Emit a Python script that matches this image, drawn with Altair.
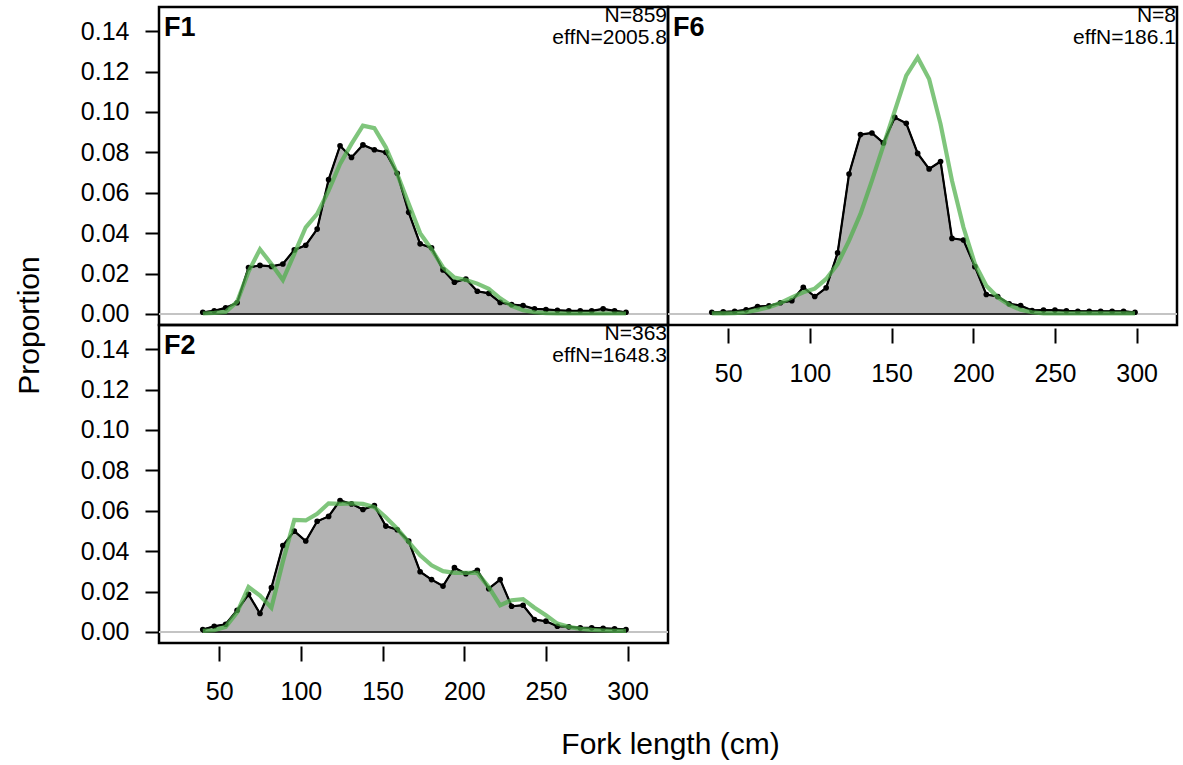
import altair as alt
import pandas as pd

# Length bins (cm)
lengths = [40, 47, 54, 61, 68, 75, 82, 89, 96, 103, 110, 117, 124, 131, 138, 145, 152, 159, 166,
           173, 180, 187, 194, 201, 208, 215, 222, 229, 236, 243, 250, 257, 264, 271, 278, 285, 292, 299]

# F1 observed / expected
f1_obs = [0.0008, 0.0015, 0.003, 0.0055, 0.023, 0.024, 0.0235, 0.0247, 0.0317, 0.034,
          0.042, 0.0665, 0.0833, 0.0775, 0.0837, 0.0813, 0.080, 0.0696, 0.0503, 0.0347,
          0.0327, 0.0218, 0.0157, 0.0173, 0.0112, 0.0102, 0.0057, 0.0046, 0.0041, 0.0025,
          0.0022, 0.0018, 0.0015, 0.0015, 0.0015, 0.0025, 0.0015, 0.0008]
f1_exp = [0.0002, 0.0005, 0.001, 0.006, 0.021, 0.032, 0.0247, 0.0168, 0.0297, 0.0429,
          0.0495, 0.061, 0.0743, 0.0842, 0.0932, 0.092, 0.0825, 0.0693, 0.0545, 0.040,
          0.032, 0.023, 0.018, 0.0168, 0.015, 0.0124, 0.0077, 0.004, 0.0018, 0.0008,
          0.0004, 0.0003, 0.0002, 0.0002, 0.0002, 0.0002, 0.0002, 0.0002]

# F6 observed / expected
f6_obs = [0.0008, 0.001, 0.0013, 0.002, 0.0036, 0.004, 0.0055, 0.0065, 0.0132, 0.0086,
          0.0129, 0.0302, 0.0693, 0.0888, 0.0896, 0.0847, 0.0973, 0.0944, 0.0795, 0.0718,
          0.0755, 0.0374, 0.0366, 0.0234, 0.0096, 0.0086, 0.005, 0.0041, 0.0017, 0.0019,
          0.0019, 0.0015, 0.0013, 0.0013, 0.0013, 0.0013, 0.0013, 0.0008]
f6_exp = [0.0003, 0.0003, 0.0004, 0.0008, 0.002, 0.0033, 0.0054, 0.0082, 0.0107, 0.0125,
          0.0173, 0.0247, 0.0363, 0.0495, 0.066, 0.0833, 0.1006, 0.118, 0.127, 0.1163,
          0.094, 0.066, 0.0429, 0.0248, 0.014, 0.0082, 0.0045, 0.002, 0.0008, 0.0003,
          0.0003, 0.0003, 0.0003, 0.0003, 0.0003, 0.0003, 0.0003, 0.0003]

# F2 observed / expected
f2_obs = [0.0012, 0.0028, 0.0038, 0.0107, 0.0186, 0.0091, 0.0219, 0.0428, 0.0499, 0.045,
          0.0548, 0.0572, 0.0651, 0.0634, 0.0606, 0.0626, 0.0524, 0.0506, 0.045, 0.0298,
          0.0259, 0.0227, 0.0318, 0.0288, 0.0305, 0.0214, 0.0259, 0.0127, 0.0132, 0.0061,
          0.0053, 0.0028, 0.0025, 0.002, 0.002, 0.0018, 0.0015, 0.0012]
f2_exp = [0.0005, 0.0008, 0.0025, 0.0097, 0.0222, 0.018, 0.012, 0.0348, 0.0555, 0.0552,
          0.0585, 0.0637, 0.0634, 0.0637, 0.0634, 0.0618, 0.0568, 0.0511, 0.0445, 0.0379,
          0.033, 0.0301, 0.0292, 0.0292, 0.0292, 0.0222, 0.0132, 0.0157, 0.0162, 0.012,
          0.0082, 0.0041, 0.0025, 0.0015, 0.001, 0.0007, 0.0005, 0.0005]

y_ticks = [0.0, 0.02, 0.04, 0.06, 0.08, 0.10, 0.12, 0.14]
x_ticks = [50, 100, 150, 200, 250, 300]

FONT = "Liberation Sans"
W, H = 509, 318


def panel(name, obs, exp, n_txt, eff_txt, show_y, show_x, y_title=False, x_title=False):
    df = pd.DataFrame({"len": lengths, "obs": obs, "exp": exp})
    xs = alt.Scale(domain=[13.2, 324.7], nice=False, zero=False)
    ys = alt.Scale(domain=[-0.0055, 0.152], nice=False, zero=False)

    if show_x:
        xargs = dict(values=x_ticks, labelFontSize=25, labelFont=FONT, labelColor="black",
                     tickSize=15, tickWidth=2, tickColor="black", offset=3, labelPadding=18,
                     domain=False, grid=False)
        if x_title:
            xargs.update(title="Fork length (cm)", titleFontSize=30, titleFont=FONT,
                         titleFontWeight="normal", titleColor="black", titleX=511, titleY=107,
                         titleAlign="center", titleBaseline="alphabetic")
        else:
            xargs.update(title=None)
        xaxis = alt.Axis(**xargs)
    else:
        xaxis = None

    if show_y:
        yargs = dict(values=y_ticks, format=".2f", labelFontSize=25, labelFont=FONT,
                     labelColor="black", tickSize=14, tickWidth=2, tickColor="black",
                     labelPadding=16, domain=False, grid=False)
        if y_title:
            yargs.update(title="Proportion", titleFontSize=30, titleFont=FONT,
                         titleFontWeight="normal", titleColor="black", titleX=-121, titleY=318,
                         titleAngle=270, titleAlign="center", titleBaseline="alphabetic")
        else:
            yargs.update(title=None)
        yaxis = alt.Axis(**yargs)
    else:
        yaxis = None

    base = alt.Chart(df).encode(
        x=alt.X("len:Q", scale=xs, axis=xaxis)
    )

    zero = alt.Chart(df).mark_rule(color="#c4c4c4", strokeWidth=2).encode(
        y=alt.Y(datum=0, scale=ys, axis=yaxis)
    )
    area = base.mark_area(fill="#b3b3b3", stroke="black", strokeWidth=1.5).encode(
        y=alt.Y("obs:Q", scale=ys, axis=yaxis)
    )
    line = base.mark_line(color="black", strokeWidth=2.2).encode(
        y=alt.Y("obs:Q", scale=ys, axis=yaxis)
    )
    pts = base.mark_circle(color="black", size=32, opacity=1).encode(
        y=alt.Y("obs:Q", scale=ys, axis=yaxis)
    )
    green = base.mark_line(color="#4daf4a", strokeWidth=4.2, opacity=0.72).encode(
        y=alt.Y("exp:Q", scale=ys, axis=yaxis)
    )

    lab_df = pd.DataFrame({"t": [name]})
    lab = alt.Chart(lab_df).mark_text(
        font=FONT, fontSize=27, fontWeight="bold", align="left", baseline="alphabetic", color="black"
    ).encode(text="t:N", x=alt.value(5), y=alt.value(29))

    n_df = pd.DataFrame({"t": [n_txt]})
    ntext = alt.Chart(n_df).mark_text(
        font=FONT, fontSize=21, align="right", baseline="alphabetic", color="black"
    ).encode(text="t:N", x=alt.value(W - 1), y=alt.value(15))
    e_df = pd.DataFrame({"t": [eff_txt]})
    etext = alt.Chart(e_df).mark_text(
        font=FONT, fontSize=21, align="right", baseline="alphabetic", color="black"
    ).encode(text="t:N", x=alt.value(W - 1), y=alt.value(37))

    return alt.layer(zero, area, line, pts, green, lab, ntext, etext).properties(width=W, height=H)


p1 = panel("F1", f1_obs, f1_exp, "N=859", "effN=2005.8", show_y=True, show_x=False, y_title=True)
p6 = panel("F6", f6_obs, f6_exp, "N=8", "effN=186.1", show_y=False, show_x=True)
p2 = panel("F2", f2_obs, f2_exp, "N=363", "effN=1648.3", show_y=True, show_x=True, x_title=True)

chart = alt.concat(p1, p6, p2, columns=2, spacing=0, bounds="flush").properties(
    padding={"left": 12, "top": 3, "right": 0, "bottom": 0}
).configure(
    font=FONT, background="white"
).configure_view(
    stroke="black", strokeWidth=2.5
)

chart.save("out.html", embed_options={"renderer": "svg", "actions": False})
